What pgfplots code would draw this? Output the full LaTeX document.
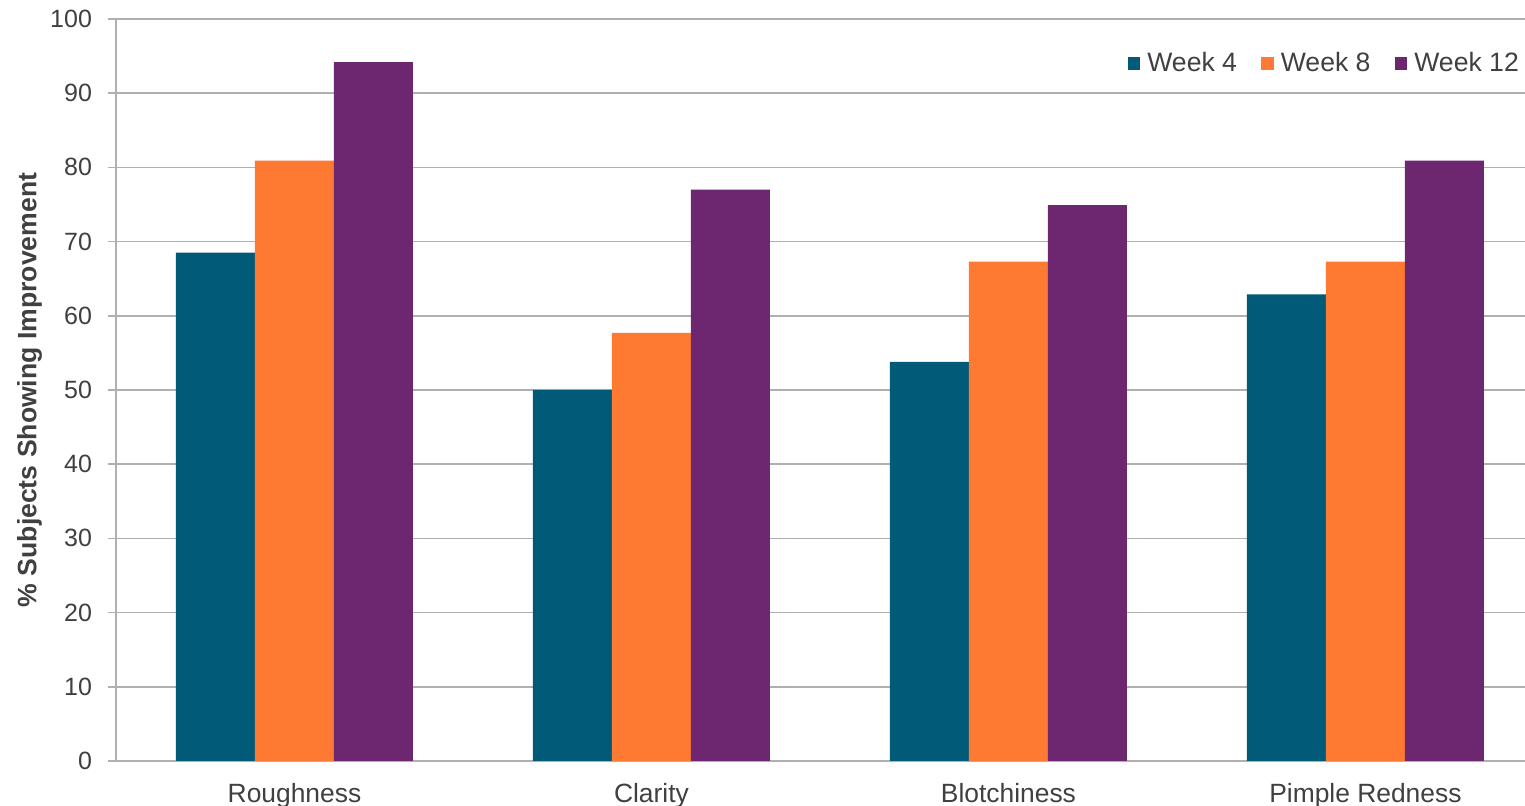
\documentclass[border=0pt]{standalone}
\usepackage{fontspec}
\setmainfont{Liberation Sans}
\usepackage{pgfplots}
\pgfplotsset{compat=1.18}

\definecolor{wkfour}{HTML}{005A78}
\definecolor{wkeight}{HTML}{FE7A33}
\definecolor{wktwelve}{HTML}{6C2770}
\definecolor{gridgrey}{HTML}{B0B0B0}
\definecolor{txtgrey}{HTML}{404040}

\begin{document}
\begin{tikzpicture}
\begin{axis}[
  name=ax,
  scale only axis,
  width=704.5pt, height=371pt,
  ybar=0pt, bar width=39.5pt,
  xmin=-0.5, xmax=3.447,
  ymin=0, ymax=100,
  xtick={0,1,2,3},
  xticklabels={Roughness, Clarity, Blotchiness, Pimple Redness},
  ytick={0,10,...,100},
  major x tick style={draw=none},
  y tick style={draw=gridgrey, line width=0.8pt},
  major tick length=4pt,
  ytick pos=left, xtick pos=bottom,
  tick align=outside,
  ymajorgrids,
  grid style={draw=gridgrey, line width=0.8pt},
  axis x line*=bottom, axis y line*=left,
  axis line style={draw=gridgrey, line width=0.9pt, -},
  /pgf/number format/assume math mode=true,
  yticklabel style={font=\fontsize{12.5}{14}\selectfont, text=txtgrey, xshift=-4.5pt},
  xticklabel style={font=\fontsize{13.2}{15}\selectfont, text=txtgrey, yshift=-3.5pt},
  ylabel={\textbf{\% Subjects Showing Improvement}},
  every axis y label/.style={at={(ticklabel cs:0.5)}, xshift=-7pt, rotate=90,
    anchor=center, font=\fontsize{13.3}{15}\selectfont, text=txtgrey},
  legend style={draw=none, fill=none, at={(rel axis cs:1.003,0.94)}, anchor=east,
    legend columns=3, font=\fontsize{13.3}{15}\selectfont, text=txtgrey,
    /tikz/every even column/.append style={column sep=10pt}},
  legend image code/.code={\fill[#1] (0pt,-3.2pt) rectangle (6.4pt,3.2pt);},
  legend cell align=left,
]
\addplot[fill=wkfour, draw=none] coordinates {(0,68.5) (1,50.0) (2,53.8) (3,62.9)};
\addplot[fill=wkeight, draw=none] coordinates {(0,80.9) (1,57.7) (2,67.3) (3,67.3)};
\addplot[fill=wktwelve, draw=none] coordinates {(0,94.2) (1,77.0) (2,74.9) (3,80.9)};
\legend{\hspace{1.5pt}Week 4, \hspace{1.5pt}Week 8, \hspace{1.5pt}Week 12}
\end{axis}
\pgfresetboundingbox
\path ([shift={(-58pt,-22.5pt)}]ax.south west) rectangle ([shift={(0pt,9.5pt)}]ax.north east);
\end{tikzpicture}
\end{document}
